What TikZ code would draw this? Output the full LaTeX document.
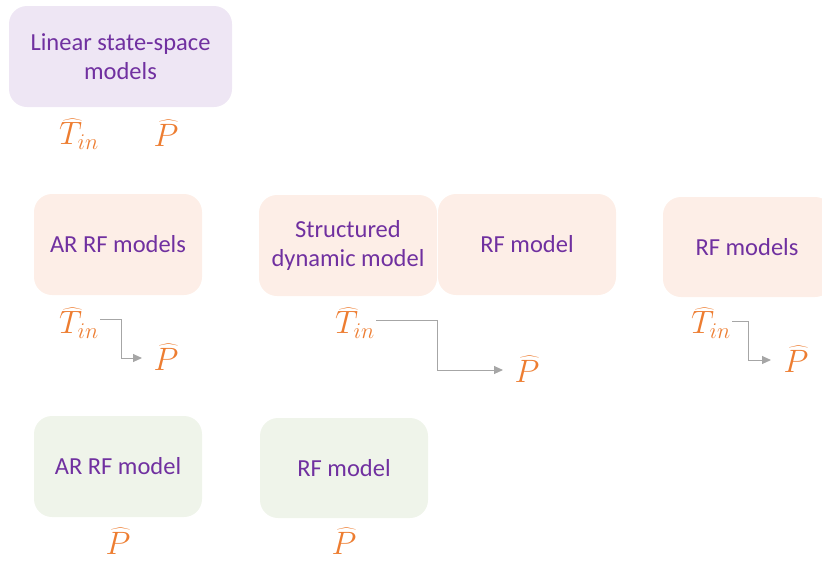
\documentclass[tikz,border=0pt]{standalone}
\usepackage{fontspec}
\setmainfont{Carlito}
\usetikzlibrary{arrows.meta}
\definecolor{txtpurple}{HTML}{7030A0}
\definecolor{lblorange}{HTML}{ED7D31}
\definecolor{fillpurple}{HTML}{EEE6F4}
\definecolor{fillpeach}{HTML}{FDEEE7}
\definecolor{fillgreen}{HTML}{EFF4EA}
\definecolor{arrgray}{HTML}{A6A6A6}
\newcommand{\Tin}{\scalebox{1.3}{$\widehat{T}_{in}$}}
\newcommand{\Phat}{\scalebox{1.3}{$\widehat{P}$}}
\tikzset{
  modelbox/.style={rounded corners=18pt, draw=none, text=txtpurple, font=\fontsize{24.5}{28.5}\selectfont, align=center, inner sep=0pt},
  lbl/.style={text=lblorange, font=\fontsize{24}{28}\selectfont, inner sep=1pt},
  flow/.style={draw=arrgray, line width=1pt, -{Triangle[length=9pt,width=8pt]}},
}
\begin{document}
\begin{tikzpicture}[x=1pt,y=-1pt]
\useasboundingbox (0,0) rectangle (822,560);
\begin{scope}
\clip (0,0) rectangle (822,560);
% boxes
\node[modelbox, fill=fillpurple, minimum width=223pt, minimum height=101pt] (lss) at (120.5,56.5) {Linear state-space\\models};
\node[modelbox, fill=fillpeach, minimum width=168pt, minimum height=101pt] (arrfs) at (118,244.5) {AR RF models};
\node[modelbox, fill=fillpeach, minimum width=178pt, minimum height=101pt] (sdm) at (348,245.5) {Structured\\dynamic model};
\node[modelbox, fill=fillpeach, minimum width=178pt, minimum height=101pt] (rfm) at (527,244.5) {RF model};
\node[modelbox, fill=fillpeach, minimum width=170pt, minimum height=100pt] (rfms) at (748,247) {};
\node[text=txtpurple, font=\fontsize{24.5}{28.5}\selectfont, inner sep=0pt] (rfmstxt) at (747,247) {RF models};
\node[modelbox, fill=fillgreen, minimum width=168pt, minimum height=101pt] (arrf) at (118,466.5) {AR RF model};
\node[modelbox, fill=fillgreen, minimum width=168pt, minimum height=100pt] (rfg) at (344,468) {RF model};
\end{scope}
% labels row 1
\node[lbl] (t1) at (79,134) {\Tin};
\node[lbl] (p1) at (166,133) {\Phat};
% row 2
\node[lbl] (t2) at (79,323) {\Tin};
\node[lbl] (p2) at (166,357) {\Phat};
\node[lbl] (t3) at (355,323) {\Tin};
\node[lbl] (p3) at (527,369) {\Phat};
\node[lbl] (t4) at (711,323) {\Tin};
\node[lbl] (p4) at (796,359) {\Phat};
% row 3
\node[lbl] (p5) at (118,541) {\Phat};
\node[lbl] (p6) at (344,541) {\Phat};
% connectors
\coordinate (c2a) at (121,319);
\coordinate (c3a) at (437,320);
\coordinate (c4a) at (748,321);
\coordinate (c2b) at (142,358);
\coordinate (c3b) at (503,370);
\coordinate (c4b) at (771,360);
\draw[flow] (t2.east |- c2a) -| (c2b -| c2a) -- (c2b);
\draw[flow] (t3.east |- c3a) -| (c3b -| c3a) -- (c3b);
\draw[flow] (t4.east |- c4a) -| (c4b -| c4a) -- (c4b);
\end{tikzpicture}
\end{document}
